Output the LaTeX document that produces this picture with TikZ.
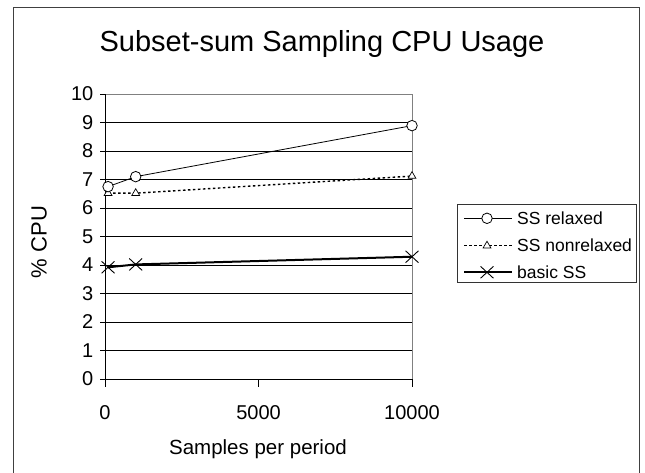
\documentclass[tikz,border=0pt]{standalone}
\usepackage{fontspec}
\setmainfont{Liberation Sans}
\usetikzlibrary{shapes.geometric,shapes.misc}
\begin{document}
\begin{tikzpicture}[x=1pt,y=-1pt,
  frameline/.style={draw=black!75,line width=1.3pt},
  gridline/.style={draw=black,line width=0.8pt},
  plotborder/.style={draw=black!50,line width=0.8pt},
  axisline/.style={draw=black,line width=0.9pt},
  ticklbl/.style={inner sep=0pt,font=\fontsize{20}{24}\selectfont},
  legendlbl/.style={inner sep=0pt,anchor=west,font=\fontsize{17.5}{21}\selectfont},
  relaxedline/.style={draw=black,line width=0.8pt},
  nonrelline/.style={draw=black,line width=1.4pt,dash pattern=on 2.5pt off 2.5pt},
  basicline/.style={draw=black,line width=2pt},
  circmark/.style={circle,draw=black,fill=white,line width=0.8pt,minimum size=10.5pt,inner sep=0pt},
  trimark/.style={regular polygon,regular polygon sides=3,draw=black,fill=white,line width=0.7pt,minimum size=9pt,inner sep=0pt},
  xmark/.style={cross out,draw=black,line width=0.9pt,minimum width=12pt,minimum height=11pt,inner sep=0pt}]
\useasboundingbox (0,0) rectangle (645,472);
\fill[white] (0,0) rectangle (645,472);
% outer frame
\draw[frameline] (13.3,473) -- (13.3,7.8) -- (639.5,7.8) -- (639.5,473);
% title
\node[inner sep=0pt,anchor=base,font=\fontsize{29}{34}\selectfont] (title) at (322,51) {Subset-sum Sampling CPU Usage};
% plot in data units
\begin{scope}[shift={(105,379)},x=0.0307pt,y=28.5pt]
  \foreach \v in {1,...,9} {\draw[gridline] (0,\v) -- (10000,\v);}
  \draw[plotborder] (0,10) -- (10000,10) -- (10000,0);
  \draw[axisline] (0,0) -- (0,10);
  \draw[axisline] (0,0) -- (10000,0);
  \foreach \v in {0,...,10} {
    \draw[axisline] (0,\v) -- ++(-5.5pt,0pt);
    \node[ticklbl,anchor=east,xshift=-11.5pt] (yl\v) at (0,\v) {\v};
  }
  \foreach \t in {0,5000,10000} {
    \draw[axisline] (\t,0) -- ++(0pt,-7.5pt);
    \node[ticklbl,anchor=base,yshift=-40pt] (xl\t) at (\t,0) {\t};
  }
  % data
  \coordinate (r1) at (100,6.75);
  \coordinate (r2) at (1000,7.10);
  \coordinate (r3) at (10000,8.89);
  \coordinate (n1) at (100,6.52);
  \coordinate (n2) at (1000,6.52);
  \coordinate (n3) at (10000,7.12);
  \coordinate (b1) at (100,3.92);
  \coordinate (b2) at (1000,4.02);
  \coordinate (b3) at (10000,4.29);
  \draw[nonrelline] (n1) -- (n2) -- (n3);
  \draw[relaxedline] (r1) -- (r2) -- (r3);
  \draw[basicline] (b1) -- (b2) -- (b3);
  \foreach \i in {1,2,3} {
    \node[trimark] (nm\i) at (n\i) {};
    \node[circmark] (rm\i) at (r\i) {};
    \node[xmark] (bm\i) at (b\i) {};
  }
\end{scope}
% axis titles
\node[inner sep=0pt,anchor=base,font=\fontsize{20.5}{24}\selectfont] (xtitle) at (258,454) {Samples per period};
\node[inner sep=0pt,anchor=base,rotate=90,font=\fontsize{22}{26}\selectfont] (ytitle) at (46.5,242) {\% CPU};
% legend
\draw[draw=black!80,line width=0.9pt] (457.3,204) rectangle (636,282.5);
\coordinate (la1) at (464,218.3); \coordinate (lb1) at (512,218.3);
\coordinate (la2) at (464,245.7); \coordinate (lb2) at (512,245.7);
\coordinate (la3) at (464,272.3); \coordinate (lb3) at (512,272.3);
\draw[relaxedline] (la1) -- (lb1);
\draw[nonrelline] (la2) -- (lb2);
\draw[basicline] (la3) -- (lb3);
\node[circmark] (lm1) at (487,218.3) {};
\node[trimark] (lm2) at (487,245.7) {};
\node[xmark] (lm3) at (487,272.3) {};
\node[legendlbl] (lt1) at (517,218.3) {SS relaxed};
\node[legendlbl] (lt2) at (517,245.7) {SS nonrelaxed};
\node[legendlbl] (lt3) at (517,272.3) {basic SS};
\end{tikzpicture}
\end{document}
